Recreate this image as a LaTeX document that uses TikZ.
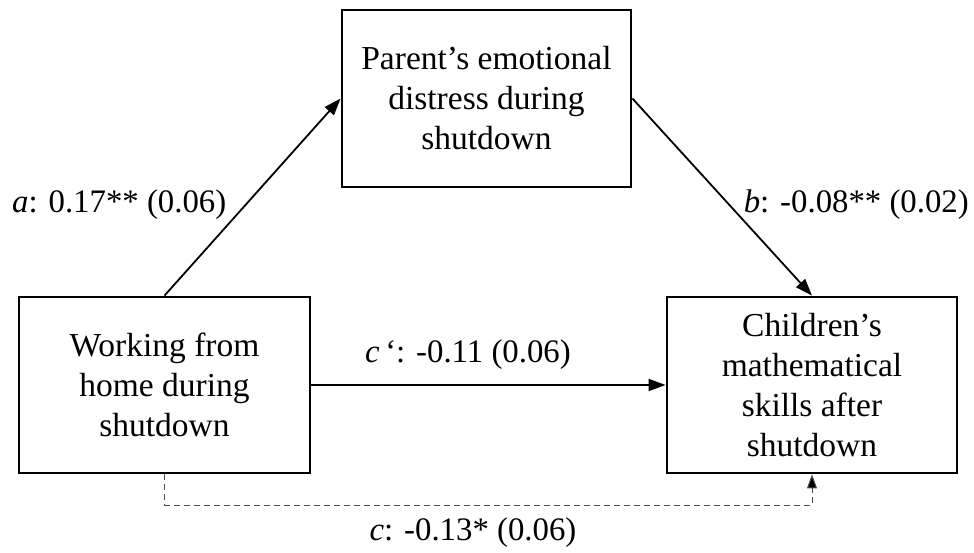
\documentclass[tikz,border=0pt]{standalone}
\usepackage{fontspec}
\setmainfont{Liberation Serif}
\usetikzlibrary{arrows.meta}
\begin{document}
\begin{tikzpicture}[x=1pt,y=-1pt,
  box/.style={draw,line width=2.8pt,align=center,inner sep=0pt,
    font=\fontsize{33.5}{40}\selectfont},
  arr/.style={line width=1.8pt,-{Triangle[length=17pt,width=12pt]}},
  dasharr/.style={line width=1pt,draw=black!70,dash pattern=on 6pt off 4pt,
    -{Triangle[length=14pt,width=10pt,fill=black]}},
  lbl/.style={font=\fontsize{32.8}{40}\selectfont,inner sep=0pt}]
\useasboundingbox (0,0) rectangle (974,553);
\node[box,minimum width=289pt,minimum height=177pt] (top) at (486.5,98.5)
  {Parent’s emotional\\distress during\\shutdown};
\node[box,minimum width=291pt,minimum height=176pt] (left) at (164.5,385)
  {Working from\\home during\\shutdown};
\node[box,minimum width=290pt,minimum height=176pt] (right) at (812,385)
  {Children’s\\mathematical\\skills after\\shutdown};
\coordinate (dl) at (164.5,505);
\coordinate (dr) at (812,505);
\draw[arr] (left.north) -- (top.west);
\draw[arr] (top.east) -- (right.north);
\draw[arr] (left.east) -- (right.west);
\draw[dasharr] (left.south) -- (dl) -- (dr) -- (right.south);
\node[lbl,anchor=west] (la) at (12,205) {\textit{a}: 0.17** (0.06)};
\node[lbl,anchor=east] (lb) at (969,205) {\textit{b}: -0.08** (0.02)};
\node[lbl] (lc1) at (468,355) {\textit{c}\,‘: -0.11 (0.06)};
\node[lbl] (lc) at (473,533) {\textit{c}: -0.13* (0.06)};
\end{tikzpicture}
\end{document}
